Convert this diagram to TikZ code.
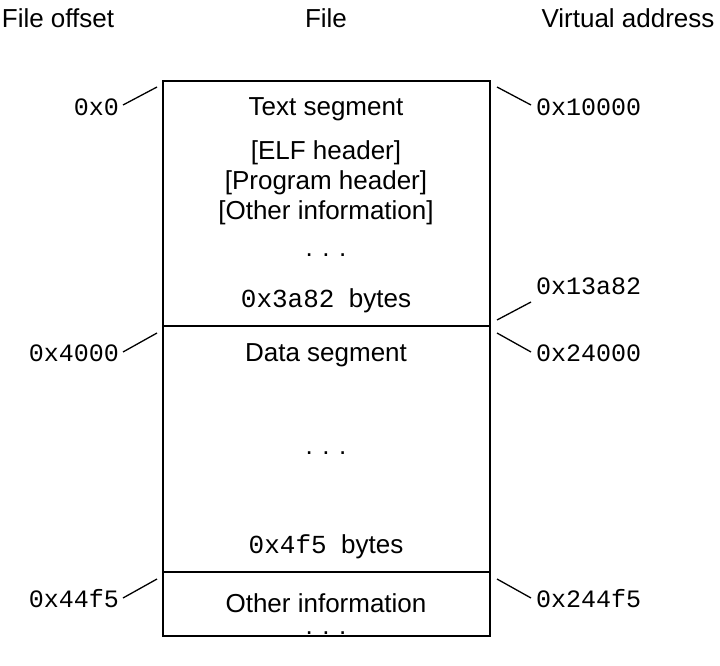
\documentclass[tikz,border=0pt]{standalone}
\usepackage{fontspec}
\setmainfont{Liberation Sans}
\setmonofont{Liberation Mono}
\begin{document}
\begin{tikzpicture}[x=1pt,y=-1pt,
  t/.style={font=\fontsize{26}{30}\selectfont,inner sep=1pt},
  m/.style={font=\fontsize{25}{30}\selectfont\ttfamily,inner sep=1pt},
  ln/.style={line width=1.3pt}]
\useasboundingbox (0,0) rectangle (720,666);
\draw[ln] (163,81) rectangle (490,636);
\draw[ln] (163,326) -- (490,326);
\draw[ln] (163,572) -- (490,572);
\node[t] (h1) at (58,18) {File offset};
\node[t] (h2) at (326,18) {File};
\node[t] (h3) at (628,18) {Virtual address};
\node[t] (a) at (326,109) {Text segment};
\node[t] (b) at (326,153) {[ELF header]};
\node[t] (c) at (326,183) {[Program header]};
\node[t] (d) at (326,213) {[Other information]};
\node[t] (e) at (326,255) {. . .};
\node[t] (f) at (326,301) {\ttfamily 0x3a82\rmfamily\ \ bytes};
\node[t] (g) at (326,355) {Data segment};
\node[t] (h) at (326,453) {. . .};
\node[t] (i) at (326,547) {\ttfamily 0x4f5\rmfamily\ \ bytes};
\node[t] (j) at (326,603) {Other information};
\node[t,inner sep=0pt] (k) at (326,633) {. . .};
\node[m,anchor=east] (l1) at (120,107) {0x0};
\node[m,anchor=east] (l2) at (120,353) {0x4000};
\node[m,anchor=east] (l3) at (120,599) {0x44f5};
\node[m,anchor=west] (r1) at (535,107) {0x10000};
\node[m,anchor=west] (r2) at (535,286) {0x13a82};
\node[m,anchor=west] (r3) at (535,353) {0x24000};
\node[m,anchor=west] (r4) at (535,599) {0x244f5};
\coordinate (p1) at (157,87); \coordinate (q1) at (123,105);
\coordinate (p2) at (157,333); \coordinate (q2) at (123,352);
\coordinate (p3) at (157,579); \coordinate (q3) at (123,598);
\coordinate (s1) at (497,87); \coordinate (u1) at (531,105);
\coordinate (s2) at (497,320); \coordinate (u2) at (531,302);
\coordinate (s3) at (497,333); \coordinate (u3) at (531,352);
\coordinate (s4) at (497,579); \coordinate (u4) at (531,598);
\foreach \x in {1,2,3} \draw[ln] (q\x) -- (p\x);
\foreach \x in {1,2,3,4} \draw[ln] (s\x) -- (u\x);
\end{tikzpicture}
\end{document}
